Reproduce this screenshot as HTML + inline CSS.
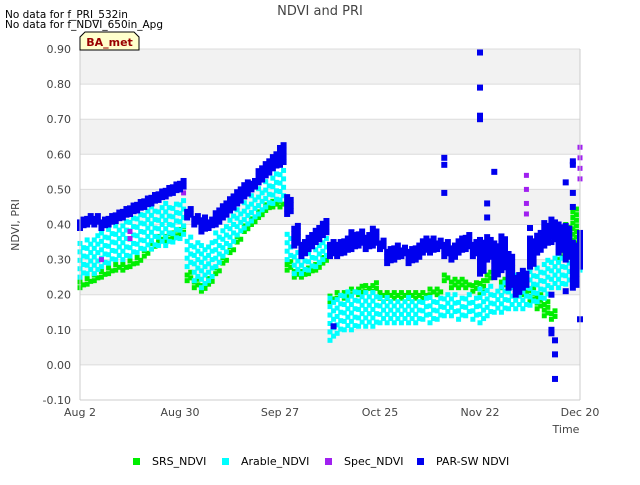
<!DOCTYPE html>
<html><head><meta charset="utf-8"><style>
body{margin:0;background:#fff;font-family:"Liberation Sans",sans-serif}
svg text{font-family:"DejaVu Sans","Liberation Sans",sans-serif}
</style></head><body>
<svg id="c" width="640" height="480" xmlns="http://www.w3.org/2000/svg">
<text x="5" y="18" font-size="10.5" fill="#000">No data for f_PRI_532in</text>
<text x="5" y="28" font-size="10.5" fill="#000">No data for f_NDVI_650in_Apg</text>
<text x="320" y="15" font-size="13" fill="#444" text-anchor="middle">NDVI and PRI</text>
<g id="bands"></g>
<g id="grid"></g>
<g id="marks"></g>
<g id="axes"></g>
<g>
<path d="M80,50 L80,37 L85,32 L134,32 L139,37 L139,50 Z" fill="#ffffcc" stroke="#000" stroke-width="1"/>
<text x="109.5" y="46" font-size="11" font-weight="bold" fill="#990000" text-anchor="middle">BA_met</text>
</g>
<text transform="translate(19,225) rotate(-90)" font-size="11" fill="#444" text-anchor="middle">NDVI, PRI</text>
<text x="566" y="433" font-size="11" fill="#444" text-anchor="middle">Time</text>
<g id="legend"></g>
</svg>
<script>
const days=[0,2,4,6,8,10,12,14,16,18,20,22,24,26,28,30,32,34,36,38,40,42,44,46,48,50,52,54,56,58,60,62,64,66,68,70,72,74,76,78,80,82,84,86,88,90,92,94,96,98,100,102,104,106,108,110,112,114,116,118,120,122,124,126,128,130,132,134,136,138,140];
const parLo=[.39,.40,.40,.39,.40,.41,.42,.43,.44,.45,.46,.47,.48,.49,.50,.42,.40,.38,.39,.40,.42,.44,.46,.48,.50,.52,.54,.56,.57,.43,.34,.31,.33,.35,.37,.31,.31,.32,.33,.34,.33,.34,.33,.29,.30,.31,.29,.30,.32,.32,.33,.31,.30,.32,.33,.31,.26,.30,.25,.27,.22,.20,.22,.28,.32,.34,.35,.32,.30,.22,.28];
const parHi=[.42,.43,.43,.42,.43,.44,.45,.46,.47,.48,.49,.50,.51,.52,.53,.45,.43,.42,.42,.44,.46,.48,.50,.52,.53,.56,.58,.60,.63,.48,.40,.35,.37,.39,.41,.35,.35,.36,.38,.38,.37,.39,.36,.33,.34,.34,.33,.34,.36,.36,.36,.35,.34,.36,.37,.35,.36,.37,.35,.37,.32,.26,.27,.36,.38,.41,.42,.40,.40,.35,.38];
const parOutDays=[102,102,102,112,112,112,112,116,114,114,126,132,133,133,133,132,136,138,138,138,138,136,140,71,132];
const parOutVals=[.49,.57,.59,.70,.71,.79,.89,.55,.46,.42,.39,.10,.07,.03,-.04,.09,.52,.58,.57,.49,.45,.21,.13,.11,.20];
const araLo=[.25,.26,.26,.28,.29,.30,.30,.31,.32,.33,.33,.34,.34,.35,.36,.28,.24,.22,.24,.28,.31,.34,.37,.39,.41,.43,.45,.46,.47,.30,.26,.26,.27,.28,.30,.07,.09,.10,.10,.11,.11,.11,.12,.12,.12,.12,.12,.12,.13,.12,.13,.14,.14,.13,.14,.13,.12,.14,.15,.15,.16,.16,.16,.17,.18,.19,.22,.22,.23,.25,.27];
const araHi=[.35,.36,.37,.38,.39,.40,.41,.42,.43,.44,.45,.45,.46,.46,.47,.37,.35,.34,.35,.38,.40,.43,.45,.47,.49,.51,.53,.55,.56,.38,.32,.31,.32,.34,.38,.20,.20,.21,.21,.21,.21,.21,.20,.20,.19,.19,.20,.19,.19,.20,.20,.20,.20,.19,.20,.20,.22,.23,.22,.24,.24,.26,.25,.27,.28,.30,.31,.33,.34,.35,.37];
const srsLo=[.22,.23,.24,.25,.26,.27,.27,.28,.29,.31,.33,.35,.35,.36,.37,.24,.22,.21,.23,.26,.29,.32,.35,.38,.40,.42,.44,.45,.45,.27,.25,.25,.26,.27,.29,.18,.19,.19,.20,.20,.21,.21,.19,.19,.19,.19,.19,.19,.19,.20,.20,.24,.22,.22,.22,.21,.20,.24,.25,.22,.22,.21,.20,.18,.16,.14,.13,.30,.32,.34,.30];
const srsHi=[.24,.25,.26,.27,.28,.29,.29,.30,.31,.33,.35,.37,.38,.39,.40,.27,.25,.23,.25,.28,.31,.34,.37,.40,.42,.44,.46,.47,.47,.30,.27,.27,.28,.29,.31,.20,.21,.21,.22,.23,.23,.24,.21,.21,.21,.21,.21,.21,.21,.22,.22,.26,.25,.25,.24,.24,.24,.27,.27,.25,.25,.25,.23,.22,.20,.18,.16,.36,.40,.45,.36];
const specDays=[6,14,14,29,29,125,125,125,125,140,140,140,140];
const specVals=[.30,.36,.38,.49,.51,.43,.46,.50,.54,.53,.56,.59,.62];
const yTicks=[0.9,0.8,0.7,0.6,0.5,0.4,0.3,0.2,0.1,0.0,-0.1];
const xTickDays=[0,28,56,84,112,140];
const xTickLabels=["Aug 2","Aug 30","Sep 27","Oct 25","Nov 22","Dec 20"];
const legendNames=["SRS_NDVI","Arable_NDVI","Spec_NDVI","PAR-SW NDVI"];
const legendColors=["#00ee00","#00ffff","#a020f0","#0000ee"];

const X0=80,X1=580,Y0=400,Y1=49;
const xs=d=>X0+d*(X1-X0)/140;
const ys=v=>Y0-(v+0.1)*(Y0-Y1)/1.0;
const NS="http://www.w3.org/2000/svg";
function mk(parent,tag,attrs){const e=document.createElementNS(NS,tag);for(const k in attrs)e.setAttribute(k,attrs[k]);parent.appendChild(e);return e;}
const bands=document.getElementById('bands'),grid=document.getElementById('grid'),marks=document.getElementById('marks'),axes=document.getElementById('axes'),legend=document.getElementById('legend');
mk(bands,'rect',{x:X0,y:Y1,width:X1-X0,height:Y0-Y1,fill:'#fff'});
for(let i=0;i<yTicks.length-1;i++){
  if(i%2===0){const r=mk(bands,'rect',{x:X0,y:ys(yTicks[i]),width:X1-X0,height:ys(yTicks[i+1])-ys(yTicks[i]),fill:'#f2f2f2'});
  
  }
}
yTicks.forEach(t=>{
  const y=ys(t);
  const l=mk(grid,'line',{x1:X0,x2:X1,y1:y,y2:y,stroke:'#dcdcdc','stroke-width':1});
  
  
  const tx=mk(axes,'text',{x:71,y:y+4,'font-size':11,fill:'#444','text-anchor':'end'});
  tx.textContent=t.toFixed(2);
  
  
});
mk(axes,'line',{x1:X0,x2:X0,y1:Y1,y2:Y0,stroke:'#ccc'});
mk(axes,'line',{x1:X1,x2:X1,y1:Y1,y2:Y0,stroke:'#ccc'});
mk(axes,'line',{x1:X0,x2:X1,y1:Y0,y2:Y0,stroke:'#ccc'});
xTickDays.forEach((d,i)=>{
  const tx=mk(axes,'text',{x:xs(d),y:416,'font-size':11,fill:'#444','text-anchor':'middle'});
  tx.textContent=xTickLabels[i];
  
  
});
function rangeSeries(lo,hi,color,size,name,step){
  const g=mk(marks,'g',{});
  
  
  days.forEach((d,i)=>{
    for(let k=0;k<2;k++){
      if(d+k>140)continue;
      const x=xs(d+k);
      const off=k?step/2:0;
      for(let v=lo[i]+off;v<=hi[i]+1e-9;v+=step){
        mk(g,'rect',{x:x-size/2,y:ys(v)-size/2,width:size,height:size,fill:color});
      }
    }
  });
}
function pointSeries(ds,vs,color,size,name){
  const g=mk(marks,'g',{});
  
  
  ds.forEach((d,i)=>mk(g,'rect',{x:xs(d)-size/2,y:ys(vs[i])-size/2,width:size,height:size,fill:color}));
}
rangeSeries(srsLo,srsHi,'#00ee00',5,'srs-ndvi-series',0.016);
rangeSeries(araLo,araHi,'#00ffff',5,'arable-ndvi-series',0.024);
pointSeries(specDays,specVals,'#a020f0',5,'spec-ndvi-series');
rangeSeries(parLo,parHi,'#0000ee',6,'par-sw-ndvi-series',0.016);
pointSeries(parOutDays,parOutVals,'#0000ee',6,'par-sw-ndvi-outliers');
const lx=[136,225,328,420];
legendNames.forEach((n,i)=>{
  const g=mk(legend,'g',{});
  
  
  mk(g,'rect',{x:lx[i]-3,y:458,width:7,height:7,fill:legendColors[i]});
  const t=mk(g,'text',{x:lx[i]+16,y:465,'font-size':11,fill:'#000'});
  t.textContent=n;
});
</script>
</body></html>
